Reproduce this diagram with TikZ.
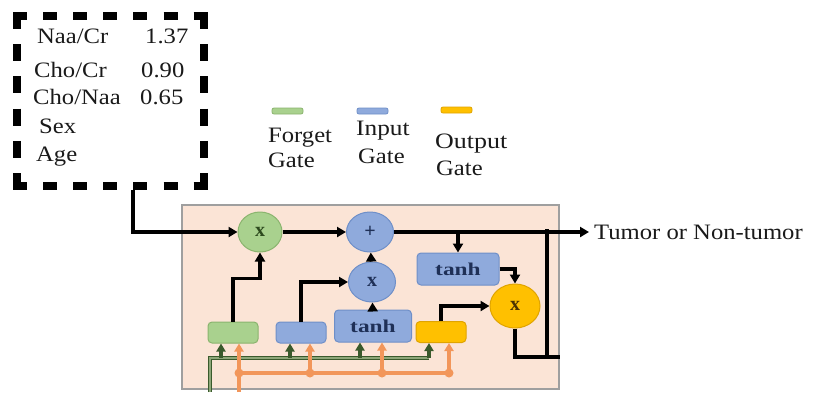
\documentclass[tikz,border=0pt]{standalone}
\usepackage{fontspec}
\usepackage{graphicx}
\setmainfont{Liberation Serif}
\newcommand{\hstr}[2]{\scalebox{#1}[1]{#2}}
\usetikzlibrary{shapes.geometric,arrows.meta}
\definecolor{peach}{HTML}{FBE4D6}
\definecolor{gfill}{HTML}{A9D18E}
\definecolor{gdraw}{HTML}{8AB46E}
\definecolor{bfill}{HTML}{8FAADC}
\definecolor{bdraw}{HTML}{6F8FC8}
\definecolor{yfill}{HTML}{FFC000}
\definecolor{ydraw}{HTML}{E0A400}
\definecolor{gwire}{HTML}{3A5A2C}
\definecolor{gwirein}{HTML}{8DA678}
\definecolor{owire}{HTML}{F2965A}
\definecolor{navy}{HTML}{1F3057}
\definecolor{gtext}{HTML}{2D4A1E}
\definecolor{ytext}{HTML}{4A3200}
\definecolor{txt}{HTML}{1A1A1A}
\tikzset{
  lbl/.style={inner sep=0, anchor=base west, text=txt, font=\fontsize{22}{26}\selectfont},
  dside/.style={line width=8pt, line cap=butt},
  circ/.style={ellipse, inner sep=0, line width=1pt, font=\bfseries\fontsize{20}{22}\selectfont},
  gcirc/.style={circ, fill=gfill, draw=gdraw, text=gtext, minimum width=44, minimum height=40},
  bcirc/.style={circ, fill=bfill, draw=bdraw, text=navy, minimum width=47, minimum height=40},
  ycirc/.style={circ, fill=yfill, draw=ydraw, text=ytext, minimum width=50, minimum height=44},
  gbox/.style={rectangle, rounded corners=4pt, inner sep=0, line width=1pt},
  tanhbox/.style={gbox, fill=bfill, draw=bdraw, text=navy, font=\bfseries\fontsize{18}{20}\selectfont},
  legbar/.style={rectangle, rounded corners=2pt, inner sep=0, line width=0.8pt, minimum width=31, minimum height=6},
  blk/.style={line width=3.2pt, -{Triangle[length=9pt,width=10pt]}},
  plain/.style={line width=3.2pt},
  gbus/.style={draw=gwire, line width=1.3pt, double=gwirein, double distance=1.4pt},
  gwa/.style={draw=gwire, line width=3.4pt, -{Triangle[length=8pt,width=9pt]}},
  ow/.style={draw=owire, line width=3.4pt},
  owa/.style={ow, -{Triangle[length=8pt,width=9pt]}},
  odot/.style={circle, fill=owire, inner sep=0, minimum size=9pt}
}
\begin{document}
\begin{tikzpicture}[x=1pt,y=-1pt]
\useasboundingbox (0,0) rectangle (819,392);
\fill[white] (0,0) rectangle (819,392);
% input box
\node[inner sep=0, minimum width=195, minimum height=178] (inbox) at (110.5,101) {};
\draw[dside, dash pattern=on 14pt off 16.1pt] (13,16) -- (208,16);
\draw[dside, dash pattern=on 14pt off 16.1pt] (13,186) -- (208,186);
\draw[dside, dash pattern=on 17pt off 15.2pt] (17,12) -- (17,190);
\draw[dside, dash pattern=on 17pt off 15.2pt] (204,12) -- (204,190);
\node[lbl] (t1) at (37,43) {\hstr{1.12}{Naa/Cr}};
\node[lbl] (v1) at (145,43) {\hstr{1.12}{1.37}};
\node[lbl] (t2) at (34,77) {\hstr{1.12}{Cho/Cr}};
\node[lbl] (v2) at (141,77) {\hstr{1.12}{0.90}};
\node[lbl] (t3) at (33,104) {\hstr{1.12}{Cho/Naa}};
\node[lbl] (v3) at (140,104) {\hstr{1.12}{0.65}};
\node[lbl] (t4) at (39,133) {\hstr{1.12}{Sex}};
\node[lbl] (t5) at (36,161) {\hstr{1.12}{Age}};
% legend
\node[legbar, fill=gfill, draw=gdraw] (lg) at (287.5,111) {};
\node[legbar, fill=bfill, draw=bdraw] (lb) at (372.5,111) {};
\node[legbar, fill=yfill, draw=ydraw] (ly) at (456.5,110) {};
\node[lbl] (lgt1) at (268,142) {\hstr{1.12}{Forget}};
\node[lbl] (lgt2) at (268,167) {\hstr{1.12}{Gate}};
\node[lbl] (lbt1) at (356,135) {\hstr{1.15}{Input}};
\node[lbl] (lbt2) at (358,163) {\hstr{1.12}{Gate}};
\node[lbl] (lyt1) at (435,148) {\hstr{1.18}{Output}};
\node[lbl] (lyt2) at (436,175) {\hstr{1.12}{Gate}};
% cell
\node[draw=gray!75, fill=peach, line width=1.2pt, minimum width=377, minimum height=184, inner sep=0] (cell) at (370.5,297) {};
% wires (under nodes)
\coordinate (gin) at (210,392);
\coordinate (gend) at (429,358);
\draw[gbus] (gin) |- (gend);
\coordinate (oin) at (239,392);
\coordinate (o1) at (239,373);
\coordinate (o2) at (310,373);
\coordinate (o3) at (382,373);
\coordinate (o4) at (449,373);
\draw[ow] (o1) -- (o4);
% nodes
\node[gcirc] (fx) at (260,232) {x};
\node[bcirc] (plus) at (370,232) {+};
\node[bcirc] (ix) at (372,282) {x};
\node[tanhbox, minimum width=82, minimum height=32] (tanhA) at (458,269) {\hstr{1.3}{tanh}};
\node[ycirc] (ox) at (515,306) {x};
\node[gbox, fill=gfill, draw=gdraw, minimum width=50, minimum height=21] (fg) at (233,332.5) {};
\node[gbox, fill=bfill, draw=bdraw, minimum width=50, minimum height=21] (ig) at (301,332.5) {};
\node[tanhbox, minimum width=77, minimum height=32] (tanhB) at (373,326) {\hstr{1.3}{tanh}};
\node[gbox, fill=yfill, draw=ydraw, minimum width=50, minimum height=21] (og) at (441,332) {};
\node[inner xsep=5pt, inner ysep=0, anchor=west, text=txt, font=\fontsize{22}{26}\selectfont] (out) at (589,232) {\hstr{1.12}{Tumor or Non-tumor}};
% green arrows
\coordinate (g1) at (221,358);
\coordinate (g2) at (290,358);
\coordinate (g3) at (360,358);
\draw[gwa] (g1) -- (g1 |- fg.south);
\draw[gwa] (g2) -- (g2 |- ig.south);
\draw[gwa] (g3) -- (g3 |- tanhB.south);
\draw[gwa] (gend) -- (gend |- og.south);
% orange arrows
\draw[owa] (oin) -- (oin |- fg.south);
\draw[owa] (o2) -- (o2 |- ig.south);
\draw[owa] (o3) -- (o3 |- tanhB.south);
\draw[owa] (o4) -- (o4 |- og.south);
\node[odot] (d1) at (o1) {};
\node[odot] (d2) at (o2) {};
\node[odot] (d3) at (o3) {};
\node[odot] (d4) at (o4) {};
% black connectors
\coordinate (inA) at (133,190);
\draw[blk] (inA) |- (fx.west);
\draw[blk] (fx.east) -- (plus.west);
\draw[blk] (plus.east) -- (out.west);
\coordinate (j1) at (tanhA.north |- plus.east);
\draw[blk] (j1) -- (tanhA.north);
\draw[blk] (tanhA.east) -| (ox.north);
\draw[blk] (og.north) |- (ox.west);
\draw[blk] (fg.north) -- ++(0,-43) -| (fx.south);
\draw[blk] (ig.north) |- (ix.west);
\draw[blk] (tanhB) -- (ix);
\draw[blk] (ix) -- (plus);
\coordinate (fb) at (560,357);
\draw[plain] (ox.south) |- (fb);
\coordinate (ht) at (547,229);
\draw[plain] (ht) -- (ht |- fb);
\end{tikzpicture}
\end{document}
